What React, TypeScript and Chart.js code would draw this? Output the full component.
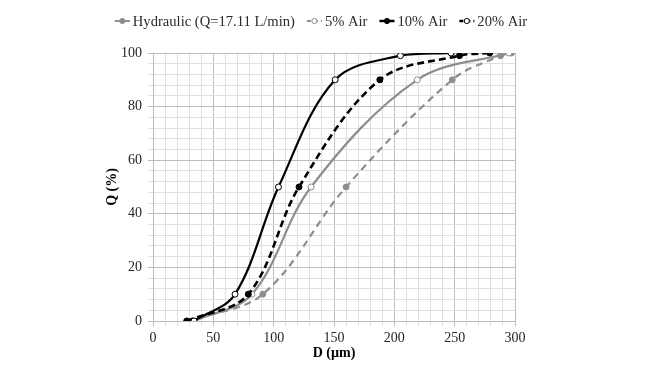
import React, { useEffect, useRef } from 'react';
import { Chart, registerables } from 'chart.js';

Chart.register(...registerables);

// ---- data ----
const seriesLabels = ['Hydraulic (Q=17.11 L/min)', '5% Air', '10% Air', '20% Air'];

const hydraulicD = [34, 82, 131, 219, 295];
const hydraulicQ = [0, 10, 50, 90, 100];

const air5D = [28, 91, 160, 248, 288, 297];
const air5Q = [0, 10, 50, 90, 99, 100];

const air10D = [34, 68, 104, 151, 205, 247];
const air10Q = [0, 10, 50, 90, 99, 100];

const air20D = [28, 79, 121, 188, 254, 279];
const air20Q = [0, 10, 50, 90, 99, 100];

const xTickLabels = [0, 50, 100, 150, 200, 250, 300];
const yTickLabels = [0, 20, 40, 60, 80, 100];

const xTitle = 'D (µm)';
const yTitle = 'Q (%)';

// ---- styles ----
const GRAY = '#8e8e8e';
const BLACK = '#000000';
const MAJOR = '#bdbdbd';
const MINOR = '#e0e0e0';
const SERIF = '"Liberation Serif", "Times New Roman", serif';

const toPoints = (xs: number[], ys: number[]) => xs.map((x, i) => ({ x, y: ys[i] }));

// legend sample appearance as drawn in the reference legend
const legendStyles = [
  { color: GRAY, dash: [] as number[], fill: GRAY, width: 2 },
  { color: GRAY, dash: [4, 3], fill: '#ffffff', width: 2 },
  { color: BLACK, dash: [] as number[], fill: BLACK, width: 2.5 },
  { color: BLACK, dash: [4, 3], fill: '#ffffff', width: 2.5 },
];

const legendPlugin = {
  id: 'customLegend',
  afterDraw(chart: any) {
    const ctx: CanvasRenderingContext2D = chart.ctx;
    ctx.save();
    ctx.font = `14.6px ${SERIF}`;
    const sampleW = 15;
    const gap = 3;
    const itemGap = 12;
    const widths = seriesLabels.map((t) => sampleW + gap + ctx.measureText(t).width);
    const total = widths.reduce((a, b) => a + b, 0) + itemGap * (widths.length - 1);
    let x = chart.width / 2 - 9 - total / 2;
    const y = 21;
    seriesLabels.forEach((label, i) => {
      const st = legendStyles[i];
      ctx.beginPath();
      ctx.setLineDash(st.dash);
      ctx.strokeStyle = st.color;
      ctx.lineWidth = st.width;
      ctx.moveTo(x, y);
      ctx.lineTo(x + sampleW, y);
      ctx.stroke();
      ctx.setLineDash([]);
      ctx.beginPath();
      ctx.arc(x + sampleW / 2, y, 2.6, 0, Math.PI * 2);
      ctx.fillStyle = st.fill;
      ctx.fill();
      ctx.lineWidth = 1;
      ctx.strokeStyle = st.color;
      ctx.stroke();
      ctx.fillStyle = '#2b2b2b';
      ctx.textBaseline = 'middle';
      ctx.textAlign = 'left';
      ctx.fillText(label, x + sampleW + gap, y + 1);
      x += widths[i] + itemGap;
    });
    ctx.restore();
  },
};

export default function App() {
  const ref = useRef<HTMLCanvasElement>(null);

  useEffect(() => {
    if (!ref.current) return;
    const chart = new Chart(ref.current, {
      type: 'line',
      data: {
        datasets: [
          {
            label: seriesLabels[2],
            data: toPoints(air10D, air10Q),
            borderColor: BLACK,
            borderWidth: 2.2,
            pointRadius: 3,
            pointBackgroundColor: '#ffffff',
            pointBorderColor: BLACK,
            pointBorderWidth: 1,
            tension: 0.35,
          },
          {
            label: seriesLabels[3],
            data: toPoints(air20D, air20Q),
            borderColor: BLACK,
            borderWidth: 2.6,
            borderDash: [7, 4],
            pointRadius: 3,
            pointBackgroundColor: BLACK,
            pointBorderColor: BLACK,
            pointBorderWidth: 1,
            tension: 0.35,
          },
          {
            label: seriesLabels[0],
            data: toPoints(hydraulicD, hydraulicQ),
            borderColor: GRAY,
            borderWidth: 2.2,
            pointRadius: 3,
            pointBackgroundColor: '#ffffff',
            pointBorderColor: GRAY,
            pointBorderWidth: 1,
            tension: 0.35,
          },
          {
            label: seriesLabels[1],
            data: toPoints(air5D, air5Q),
            borderColor: GRAY,
            borderWidth: 2.2,
            borderDash: [7, 5],
            pointRadius: 3,
            pointBackgroundColor: GRAY,
            pointBorderColor: GRAY,
            pointBorderWidth: 1,
            tension: 0.35,
          },
        ],
      },
      options: {
        responsive: false,
        animation: false,
        layout: { padding: { top: 53, right: 145, left: 0, bottom: 0 } },
        plugins: {
          legend: { display: false },
          tooltip: { enabled: false },
        },
        scales: {
          x: {
            type: 'linear',
            min: 0,
            max: 300,
            afterFit: (s: any) => {
              s.height = 49;
            },
            ticks: {
              stepSize: 10,
              autoSkip: false,
              maxRotation: 0,
              padding: 4,
              color: '#262626',
              font: { family: SERIF, size: 14 },
              callback: (v: any) => (xTickLabels.includes(Number(v)) ? String(v) : ''),
            },
            grid: {
              color: (c: any) =>
                c.tick && xTickLabels.includes(Number(c.tick.value)) ? MAJOR : MINOR,
              tickLength: 5,
            },
            border: { color: MAJOR },
            title: {
              display: true,
              text: xTitle,
              color: '#000000',
              font: { family: SERIF, size: 14, weight: 'bold' },
              padding: { top: 0, bottom: 8 },
            },
          },
          y: {
            min: 0,
            max: 100,
            afterFit: (s: any) => {
              s.width = 153;
            },
            ticks: {
              stepSize: 4,
              autoSkip: false,
              padding: 6,
              color: '#262626',
              font: { family: SERIF, size: 14 },
              callback: (v: any) => (yTickLabels.includes(Number(v)) ? String(v) : ''),
            },
            grid: {
              color: (c: any) =>
                c.tick && yTickLabels.includes(Number(c.tick.value)) ? MAJOR : MINOR,
              tickLength: 5,
            },
            border: { color: MAJOR },
            title: {
              display: true,
              text: yTitle,
              color: '#000000',
              font: { family: SERIF, size: 14, weight: 'bold' },
              padding: { top: 104, bottom: 0 },
            },
          },
        },
      },
      plugins: [legendPlugin],
    } as any);
    return () => chart.destroy();
  }, []);

  return (
    <div
      style={{
        position: 'absolute',
        left: 0,
        top: 0,
        width: 660,
        height: 370,
        background: '#ffffff',
      }}
    >
      <canvas ref={ref} width={660} height={370} style={{ display: 'block' }} />
    </div>
  );
}
